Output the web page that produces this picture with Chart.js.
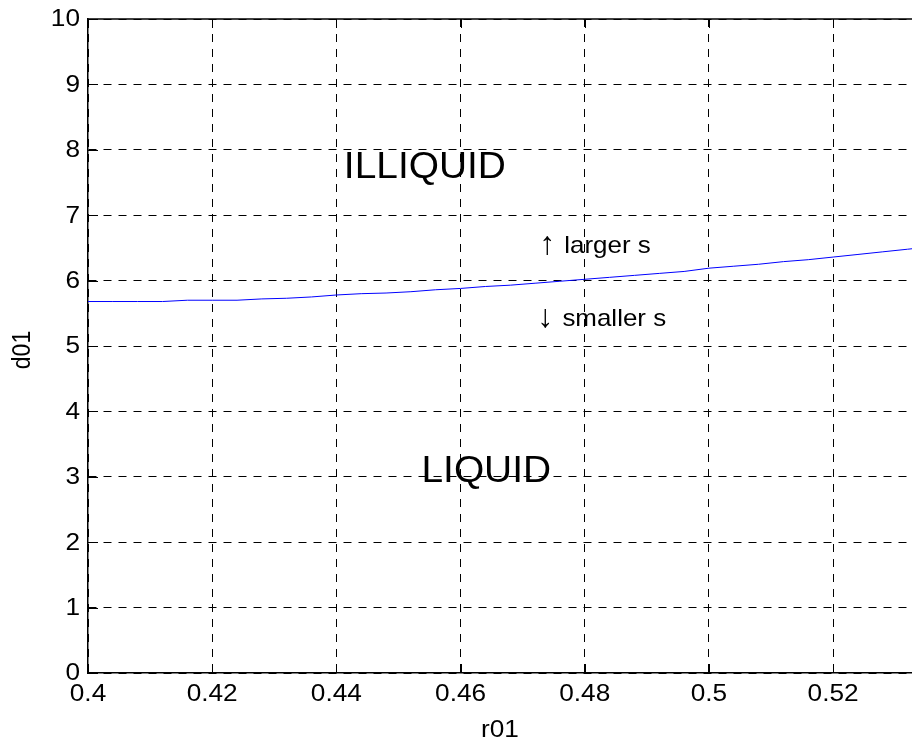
<!DOCTYPE html>
<html>
<head>
<meta charset="utf-8">
<script src="https://cdn.jsdelivr.net/npm/chart.js@4.4.1/dist/chart.umd.min.js"></script>
<style>
  html, body { margin: 0; padding: 0; background: #fff; overflow: hidden; }
  #wrap { position: relative; width: 912px; height: 746px; }
</style>
</head>
<body>
<div id="wrap"><canvas id="c"></canvas></div>
<script>
// ---- data ----
const r01 = [0.400, 0.404, 0.408, 0.412, 0.416, 0.420, 0.424, 0.428, 0.432, 0.436,
             0.440, 0.444, 0.448, 0.452, 0.456, 0.460, 0.464, 0.468, 0.472, 0.476,
             0.480, 0.484, 0.488, 0.492, 0.496, 0.500, 0.504, 0.508, 0.512, 0.516,
             0.520, 0.524, 0.528, 0.532, 0.536];
const d01 = [5.68, 5.68, 5.68, 5.68, 5.70, 5.70, 5.70, 5.72, 5.73, 5.75,
             5.78, 5.80, 5.81, 5.83, 5.86, 5.88, 5.91, 5.93, 5.96, 5.99,
             6.02, 6.05, 6.08, 6.11, 6.14, 6.19, 6.22, 6.25, 6.29, 6.32,
             6.36, 6.40, 6.44, 6.48, 6.52];
const xTicks = [0.40, 0.42, 0.44, 0.46, 0.48, 0.50, 0.52];
const xTickLabels = ['0.4', '0.42', '0.44', '0.46', '0.48', '0.5', '0.52'];
const yTicks = [0, 1, 2, 3, 4, 5, 6, 7, 8, 9, 10];
const yTickLabels = ['0', '1', '2', '3', '4', '5', '6', '7', '8', '9', '10'];
const xTitle = 'r01';
const yTitle = 'd01';
// region labels (text, anchor in data units)
const regionTexts = ['ILLIQUID', 'LIQUID'];
const regionX = [0.4412, 0.4537];
const regionY = [7.57, 2.92];
// arrow hints
const hintArrows = ['\u2191', '\u2193'];
const hintTexts = ['larger s', 'smaller s'];
const hintArrowX = [0.4727, 0.4724];
const hintTextX = [0.4767, 0.4764];
const hintY = [6.42, 5.31];

const FONT = '"Liberation Sans", Arial, Helvetica, sans-serif';
const SX = 1.14;

function stretchedText(ctx, txt, x, y, size, sx, align, baseline) {
  ctx.save();
  ctx.font = size + 'px ' + FONT;
  ctx.textAlign = align;
  ctx.textBaseline = baseline;
  ctx.translate(x, y);
  ctx.scale(sx, 1);
  ctx.fillText(txt, 0, 0);
  ctx.restore();
}

const framePlugin = {
  id: 'frame',
  afterDraw(chart) {
    const ctx = chart.ctx;
    const a = chart.chartArea;
    const xs = chart.scales.x, ys = chart.scales.y;
    ctx.save();
    ctx.strokeStyle = '#000';
    ctx.lineWidth = 1.5;
    // top border
    ctx.beginPath();
    ctx.moveTo(a.left, a.top);
    ctx.lineTo(a.right + 2, a.top);
    ctx.stroke();
    // inward ticks
    ctx.lineWidth = 1;
    ctx.beginPath();
    xTicks.forEach(v => {
      const px = Math.round(xs.getPixelForValue(v)) + 0.5;
      ctx.moveTo(px, a.bottom); ctx.lineTo(px, a.bottom - 9);
      ctx.moveTo(px, a.top); ctx.lineTo(px, a.top + 9);
    });
    yTicks.forEach(v => {
      const py = Math.round(ys.getPixelForValue(v)) + 0.5;
      ctx.moveTo(a.left, py); ctx.lineTo(a.left + 10, py);
    });
    ctx.stroke();
    ctx.fillStyle = '#000';
    // tick labels
    xTicks.forEach((v, i) => {
      stretchedText(ctx, xTickLabels[i], xs.getPixelForValue(v), a.bottom + 22, 23, SX, 'center', 'middle');
    });
    yTicks.forEach((v, i) => {
      stretchedText(ctx, yTickLabels[i], a.left - 8, ys.getPixelForValue(v) + 1, 23, SX, 'right', 'middle');
    });
    // axis titles
    stretchedText(ctx, xTitle, (a.left + a.right) / 2, a.bottom + 58, 23, SX, 'center', 'middle');
    ctx.save();
    ctx.font = '23px ' + FONT;
    ctx.textAlign = 'center';
    ctx.textBaseline = 'middle';
    ctx.translate(23, (a.top + a.bottom) / 2 + 4);
    ctx.rotate(-Math.PI / 2);
    ctx.scale(1, 1.1);
    ctx.fillText(yTitle, 0, 0);
    ctx.restore();
    // region labels
    regionTexts.forEach((t, i) => {
      stretchedText(ctx, t, xs.getPixelForValue(regionX[i]), ys.getPixelForValue(regionY[i]), 36, 1.08, 'left', 'alphabetic');
    });
    // hints
    hintTexts.forEach((t, i) => {
      const py = ys.getPixelForValue(hintY[i]);
      stretchedText(ctx, hintArrows[i], xs.getPixelForValue(hintArrowX[i]), py - 8, 32, 1.0, 'left', 'middle');
      stretchedText(ctx, t, xs.getPixelForValue(hintTextX[i]), py, 24, 1.08, 'left', 'alphabetic');
    });
    ctx.restore();
  }
};

new Chart(document.getElementById('c'), {
  type: 'line',
  data: {
    datasets: [{
      data: r01.map((x, i) => ({ x: x, y: d01[i] })),
      borderColor: '#0000ff',
      borderWidth: 1,
      pointRadius: 0,
      tension: 0,
      fill: false
    }]
  },
  options: {
    responsive: true,
    maintainAspectRatio: false,
    animation: false,
    devicePixelRatio: 1,
    layout: { padding: { top: 19, right: 0, left: 0, bottom: 0 } },
    plugins: { legend: { display: false }, tooltip: { enabled: false } },
    scales: {
      x: {
        type: 'linear',
        min: 0.4,
        max: 0.5327,
        afterBuildTicks(s) { s.ticks = xTicks.map(v => ({ value: v })); },
        afterFit(s) { s.height = 73; },
        grid: { color: '#000', lineWidth: 1, drawTicks: false },
        border: { display: true, color: '#000', width: 1.5, dash: [8, 7] },
        ticks: { display: false },
        title: { display: false }
      },
      y: {
        type: 'linear',
        min: 0,
        max: 10,
        afterBuildTicks(s) { s.ticks = yTicks.map(v => ({ value: v })); },
        afterFit(s) { s.width = 88; },
        grid: { color: '#000', lineWidth: 1, drawTicks: false },
        border: { display: true, color: '#000', width: 1.5, dash: [8, 7] },
        ticks: { display: false },
        title: { display: false }
      }
    }
  },
  plugins: [framePlugin]
});
</script>
</body>
</html>
